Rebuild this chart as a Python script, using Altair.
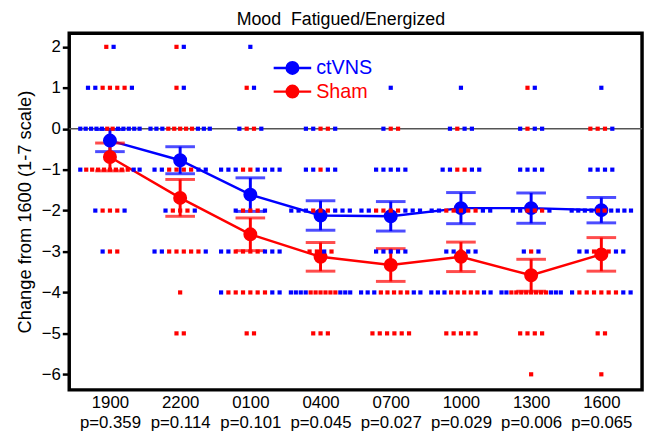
import altair as alt
import pandas as pd

times = ["1900", "2200", "0100", "0400", "0700", "1000", "1300", "1600"]
p_values = ["p=0.359", "p=0.114", "p=0.101", "p=0.045", "p=0.027", "p=0.029", "p=0.006", "p=0.065"]
series = ["ctVNS", "Sham"]
colors = ["#0000ff", "#ff0000"]

ctvns_mean = [-0.29, -0.77, -1.61, -2.12, -2.14, -1.94, -1.94, -1.99]
ctvns_sem = [0.27, 0.33, 0.41, 0.36, 0.36, 0.38, 0.37, 0.31]
sham_mean = [-0.69, -1.69, -2.58, -3.13, -3.33, -3.13, -3.58, -3.07]
sham_sem = [0.34, 0.45, 0.40, 0.35, 0.40, 0.36, 0.39, 0.41]

# individual responses: per time point, value -> left-to-right colour order (b = ctVNS, r = Sham)
dots_1900 = {2: "rb", 1: "bbrrrrb", 0: "bbbbbrrbbbbb", -1: "brrrrrrrrbb", -2: "brrrb", -3: "brr"}
dots_2200 = {2: "rb", 1: "rb", 0: "bbbrrrrrbbb", -1: "bbrrrrbb", -2: "brrrb", -3: "bbrrrrrb", -4: "r", -5: "rr"}
dots_0100 = {2: "b", 1: "rb", 0: "brrb", -1: "bbbrrbbbb", -2: "brrrb", -3: "bbrrrrbbb", -4: "brrrrrrbb", -5: "rr"}
dots_0400 = {0: "bbrrb", -1: "bbrbb", -2: "bbbrrrbbb", -3: "rrbr", -4: "bbbbrrrrrrbbb", -5: "rrr"}
dots_0700 = {1: "b", 0: "brr", -1: "bbbbb", -2: "bbrrrrbbb", -3: "bbbbb", -4: "bbbrrrrrbb", -5: "rrrrrr"}
dots_1000 = {1: "b", 0: "brbb", -1: "bbrrbb", -2: "bbrrrrrbb", -3: "bbrbb", -4: "bbbrrrrrbb", -5: "rrrrr"}
dots_1300 = {1: "rb", 0: "brbb", -1: "bbbb", -2: "bbrrrb", -3: "brb", -4: "bbrrrrrrrrbbb", -5: "rrrr", -6: "r"}
dots_1600 = {1: "b", 0: "rrrb", -1: "bbbb", -2: "bbbbrrbbbb", -3: "bbrrrbb", -4: "brrrrrrbb", -5: "rr", -6: "r"}
all_dots = [dots_1900, dots_2200, dots_0100, dots_0400, dots_0700, dots_1000, dots_1300, dots_1600]

# ---- build tables ----
px_per_unit = 71.0
dot_rows = []
for i, d in enumerate(all_dots):
    for val, seq in d.items():
        n = len(seq)
        step = min(7.4, 60.0 / max(n - 1, 1)) / px_per_unit
        for k, ch in enumerate(seq):
            dot_rows.append({"xi": i + (k - (n - 1) / 2) * step, "value": val,
                             "series": "ctVNS" if ch == "b" else "Sham"})
dots_df = pd.DataFrame(dot_rows)

summ_rows = []
for s, means, sems in [("ctVNS", ctvns_mean, ctvns_sem), ("Sham", sham_mean, sham_sem)]:
    for i in range(len(times)):
        summ_rows.append({"xi": i, "series": s, "mean": means[i],
                          "lo": means[i] - sems[i], "hi": means[i] + sems[i]})
summ_df = pd.DataFrame(summ_rows)

label_pairs = ",".join("['%s','%s']" % (t, p) for t, p in zip(times, p_values))
label_expr = "[" + label_pairs + "][datum.value]"

FONT = "Liberation Sans"
xscale = alt.Scale(domain=[-0.58, len(times) - 0.42], nice=False, zero=False)
yscale = alt.Scale(domain=[-6.38, 2.33], nice=False, zero=False)
cscale = alt.Scale(domain=series, range=colors)

X = alt.X("xi:Q", scale=xscale,
          axis=alt.Axis(values=list(range(len(times))), labelExpr=label_expr, title=None,
                        grid=False, ticks=False, domain=False, labelFontSize=17,
                        labelLineHeight=20, labelPadding=5, labelColor="black",
                        labelFont=FONT, labelBaseline="top"))
Y_axis = alt.Axis(values=list(range(-6, 3)), title="Change from 1600 (1-7 scale)", grid=False,
                  domain=False, tickColor="black", tickWidth=2.5, tickSize=7, labelFontSize=17,
                  labelColor="black", labelPadding=2, titleFontSize=18.5, titleFontWeight="normal",
                  titleColor="black", titlePadding=7, labelFont=FONT, titleFont=FONT)

zero = alt.Chart(pd.DataFrame({"v": [0]})).mark_rule(color="#555555", strokeWidth=1.5).encode(
    y=alt.Y("v:Q", scale=yscale, axis=Y_axis))

base = alt.Chart(summ_df)
col = alt.Color("series:N", scale=cscale, legend=None)
lines = base.mark_line(strokeWidth=2.5).encode(x=X, y=alt.Y("mean:Q", scale=yscale), color=col, detail="series:N")
bars = base.mark_rule(strokeWidth=3).encode(x=X, y=alt.Y("lo:Q", scale=yscale), y2="hi:Q", color=col)
cap_lo = base.mark_tick(orient="horizontal", size=30, thickness=3).encode(x=X, y=alt.Y("lo:Q", scale=yscale), color=col)
cap_hi = base.mark_tick(orient="horizontal", size=30, thickness=3).encode(x=X, y=alt.Y("hi:Q", scale=yscale), color=col)
pts = base.mark_circle(size=200, opacity=1).encode(x=X, y=alt.Y("mean:Q", scale=yscale), color=col)

dots = alt.Chart(dots_df).mark_square(size=18, opacity=1).encode(
    x=X, y=alt.Y("value:Q", scale=yscale), color=col)

legend_layers = []
for i, (s, c) in enumerate(zip(series, colors)):
    ldf = pd.DataFrame({"series": [s]})
    ly = 35 + i * 24
    lb = alt.Chart(ldf)
    legend_layers.append(lb.mark_rule(color=c, strokeWidth=2.5).encode(
        x=alt.value(207), x2=alt.value(245), y=alt.value(ly)))
    legend_layers.append(lb.mark_circle(color=c, size=200, opacity=1).encode(
        x=alt.value(226), y=alt.value(ly)))
    legend_layers.append(lb.mark_text(color=c, fontSize=20, align="left", baseline="middle",
                                      font=FONT).encode(
        x=alt.value(250), y=alt.value(ly), text="series:N"))

chart = alt.layer(zero, lines, bars, cap_lo, cap_hi, pts, dots, *legend_layers).properties(
    width=580, height=361,
    title=alt.TitleParams("Mood\u00a0 Fatigued/Energized", fontSize=18, fontWeight="normal",
                          font=FONT, color="black", offset=4, dx=-15),
    padding={"left": 62, "top": 23, "right": 4, "bottom": 40},
    autosize=alt.AutoSizeParams(type="none"),
).configure_view(stroke="black", strokeWidth=3.5)

chart.save("out.html", embed_options={"renderer": "svg", "actions": False})
